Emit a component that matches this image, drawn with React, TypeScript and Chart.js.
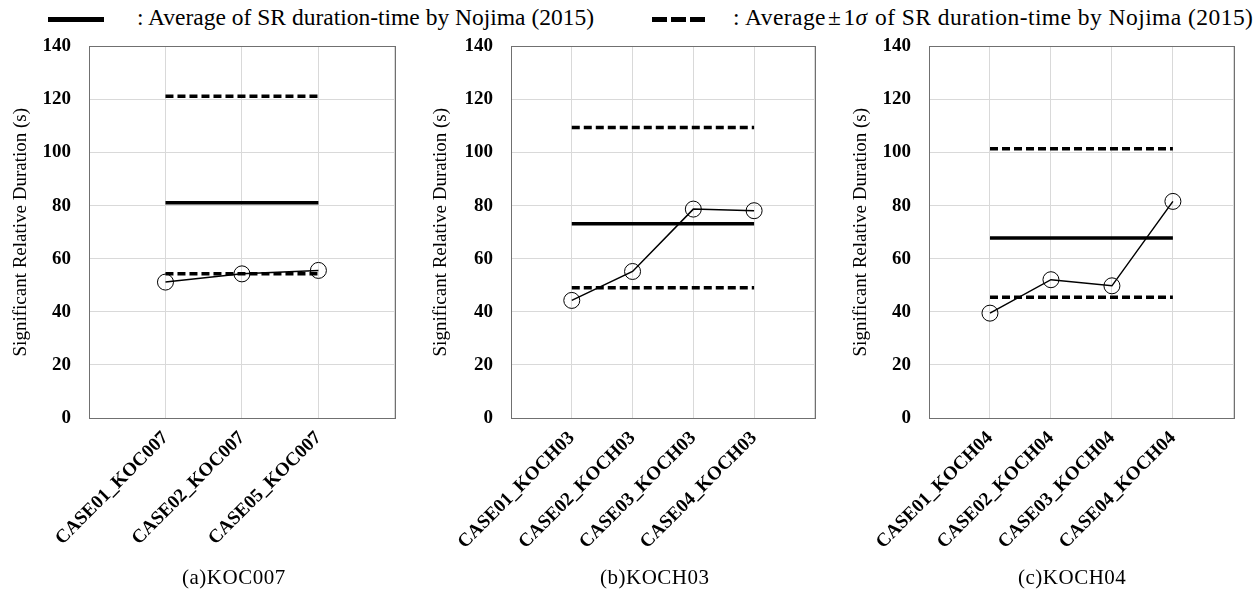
import React, { useEffect, useRef } from "react";
import { Chart, registerables } from "chart.js";

Chart.register(...registerables);

// ---- data ----
const catsA = ["CASE01_KOC007", "CASE02_KOC007", "CASE05_KOC007"];
const valsA = [51.2, 54.3, 55.6];
const meanA = 81.1;
const upperA = 121.2;
const lowerA = 54.3;

const catsB = ["CASE01_KOCH03", "CASE02_KOCH03", "CASE03_KOCH03", "CASE04_KOCH03"];
const valsB = [44.3, 55.2, 78.7, 78.1];
const meanB = 73.2;
const upperB = 109.4;
const lowerB = 49.1;

const catsC = ["CASE01_KOCH04", "CASE02_KOCH04", "CASE03_KOCH04", "CASE04_KOCH04"];
const valsC = [39.5, 52.1, 49.8, 81.6];
const meanC = 67.8;
const upperC = 101.4;
const lowerC = 45.5;

const yTicks = [0, 20, 40, 60, 80, 100, 120, 140];
const yTitle = "Significant Relative Duration (s)";
const legendSolid = ": Average of SR duration-time by Nojima (2015)";
const captions = ["(a)KOC007", "(b)KOCH03", "(c)KOCH04"];

const SERIF = "'Liberation Serif', 'Times New Roman', serif";

const borderPlugin = {
  id: "plotBorder",
  afterDraw(chart: any) {
    const { ctx, chartArea } = chart;
    const { left, top, right, bottom } = chartArea;
    ctx.save();
    ctx.strokeStyle = "#707070";
    ctx.lineWidth = 1;
    ctx.strokeRect(Math.round(left) + 0.5, Math.round(top) + 0.5, Math.round(right - left), Math.round(bottom - top));
    ctx.restore();
  },
};

type PanelProps = {
  left: number;
  top: number;
  width: number;
  height: number;
  cats: string[];
  vals: number[];
  mean: number;
  upper: number;
  lower: number;
  axisWidth: number;
  padRight: number;
};

function Panel(p: PanelProps) {
  const ref = useRef<HTMLCanvasElement | null>(null);
  useEffect(() => {
    if (!ref.current) return;
    const n = p.cats.length;
    const series = p.vals.map((v, i) => ({ x: i + 1, y: v }));
    const hline = (v: number) => [
      { x: 1, y: v },
      { x: n, y: v },
    ];
    const chart = new Chart(ref.current, {
      type: "line",
      data: {
        datasets: [
          {
            data: series,
            borderColor: "#000",
            borderWidth: 1.5,
            pointRadius: 8,
            pointBorderWidth: 1,
            pointBorderColor: "#000",
            pointBackgroundColor: "rgba(0,0,0,0)",
            fill: false,
          },
          {
            data: hline(p.mean),
            borderColor: "#000",
            borderWidth: 3.5,
            pointRadius: 0,
            fill: false,
          },
          {
            data: hline(p.upper),
            borderColor: "#000",
            borderWidth: 3.5,
            borderDash: [8, 4],
            pointRadius: 0,
            fill: false,
          },
          {
            data: hline(p.lower),
            borderColor: "#000",
            borderWidth: 3.5,
            borderDash: [8, 4],
            pointRadius: 0,
            fill: false,
          },
        ],
      },
      options: {
        animation: false,
        responsive: false,
        maintainAspectRatio: false,
        layout: { padding: { top: 2, right: p.padRight, left: 0, bottom: 0 } },
        plugins: { legend: { display: false }, tooltip: { enabled: false } },
        scales: {
          x: {
            type: "linear",
            min: 0,
            max: n + 1,
            afterBuildTicks: (scale: any) => {
              const t = [];
              for (let i = 0; i <= n + 1; i++) t.push({ value: i });
              scale.ticks = t;
            },
            afterFit: (scale: any) => {
              scale.height = 172;
            },
            grid: { color: "#d9d9d9", lineWidth: 1, drawTicks: false },
            border: { display: false },
            ticks: {
              autoSkip: false,
              minRotation: 45,
              maxRotation: 45,
              padding: 9,
              color: "#000",
              font: { family: SERIF, size: 19, weight: "bold" },
              callback: (v: any) => p.cats[Number(v) - 1] ?? "",
            },
          },
          y: {
            min: 0,
            max: 140,
            afterBuildTicks: (scale: any) => {
              scale.ticks = yTicks.map((v) => ({ value: v }));
            },
            afterFit: (scale: any) => {
              scale.width = p.axisWidth;
            },
            grid: { color: "#d9d9d9", lineWidth: 1, drawTicks: false },
            border: { display: false },
            ticks: {
              padding: 18,
              color: "#000",
              font: { family: SERIF, size: 19, weight: "bold" },
            },
            title: {
              display: true,
              text: yTitle,
              color: "#000",
              padding: { top: 10, bottom: 0 },
              font: { family: SERIF, size: 19, weight: "normal" },
            },
          },
        },
      },
      plugins: [borderPlugin],
    } as any);
    return () => chart.destroy();
  }, []);
  return (
    <canvas
      ref={ref}
      width={p.width}
      height={p.height}
      style={{ position: "absolute", left: p.left, top: p.top, width: p.width, height: p.height }}
    />
  );
}

export default function App() {
  const legendFont: React.CSSProperties = {
    position: "absolute",
    top: 2,
    fontFamily: SERIF,
    fontSize: 23.5,
    lineHeight: "30px",
    whiteSpace: "nowrap",
    color: "#000",
  };
  const dash: React.CSSProperties = { position: "absolute", top: 17, height: 5, background: "#000" };
  const cap: React.CSSProperties = {
    position: "absolute",
    top: 563,
    fontFamily: SERIF,
    fontSize: 21,
    lineHeight: "28px",
    whiteSpace: "nowrap",
    color: "#000",
    letterSpacing: "0.5px",
  };
  return (
    <div style={{ position: "absolute", left: 0, top: 0, width: 1259, height: 595, background: "#fff", overflow: "hidden" }}>
      <div style={{ ...dash, left: 48, width: 56 }} />
      <div style={{ ...legendFont, left: 137 }}>{legendSolid}</div>
      <div style={{ ...dash, left: 652, width: 15 }} />
      <div style={{ ...dash, left: 671, width: 15 }} />
      <div style={{ ...dash, left: 690, width: 15 }} />
      <div style={{ ...legendFont, left: 733, letterSpacing: "0.45px" }}>
        : Average<span style={{ margin: "0 2px" }}>±</span>1<i style={{ marginRight: 1 }}>σ</i> of SR duration-time by Nojima (2015)
      </div>
      <Panel left={0} top={17} width={420} height={573} cats={catsA} vals={valsA} mean={meanA} upper={upperA} lower={lowerA} axisWidth={89} padRight={24} />
      <Panel left={420} top={17} width={420} height={573} cats={catsB} vals={valsB} mean={meanB} upper={upperB} lower={lowerB} axisWidth={91} padRight={22} />
      <Panel left={840} top={17} width={419} height={573} cats={catsC} vals={valsC} mean={meanC} upper={upperC} lower={lowerC} axisWidth={89} padRight={23} />
      <div style={{ ...cap, left: 182 }}>{captions[0]}</div>
      <div style={{ ...cap, left: 600 }}>{captions[1]}</div>
      <div style={{ ...cap, left: 1018 }}>{captions[2]}</div>
    </div>
  );
}
